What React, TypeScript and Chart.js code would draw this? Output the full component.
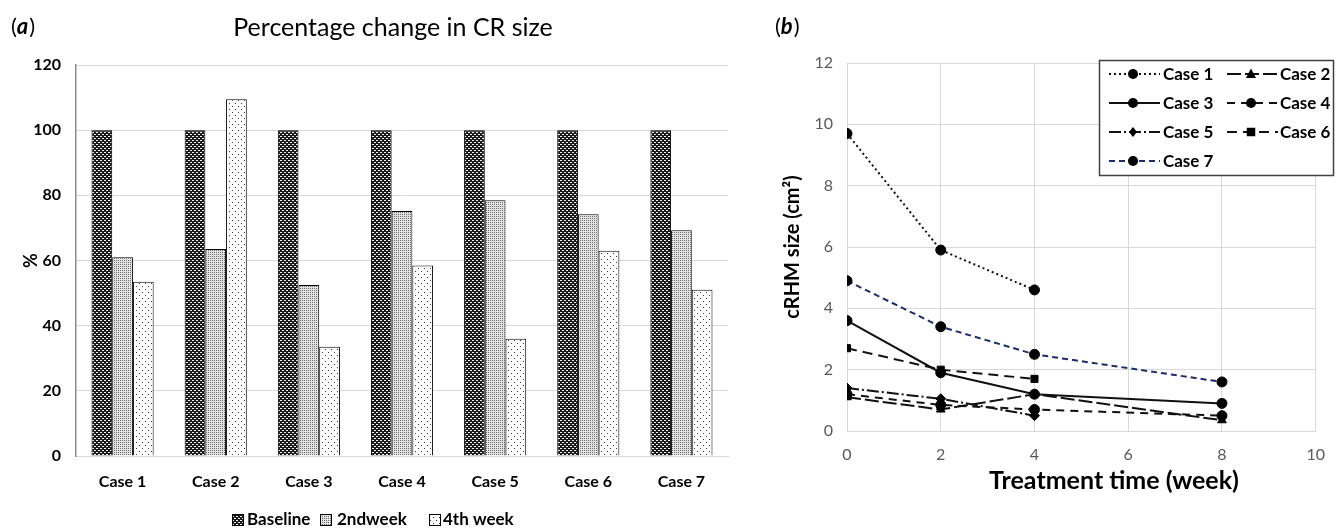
import React, { useEffect, useRef } from 'react';
import { Chart, registerables } from 'chart.js';

Chart.register(...registerables);

const FONT = 'Lato, "Open Sans", sans-serif';

// ---------- Panel (a) data ----------
const caseLabels = ['Case 1', 'Case 2', 'Case 3', 'Case 4', 'Case 5', 'Case 6', 'Case 7'];
const barSeriesNames = ['Baseline', '2ndweek', '4th week'];
const baselinePct = [100, 100, 100, 100, 100, 100, 100];
const week2Pct = [61, 63.5, 52.5, 75.2, 78.5, 74.2, 69.3];
const week4Pct = [53.5, 109.5, 33.5, 58.5, 36, 63, 51];
const barChartTitle = 'Percentage change in CR size';
const pctAxisTitle = '%';

// ---------- Panel (b) data ----------
const weeks = [0, 2, 4, 8];
const lineSeriesNames = ['Case 1', 'Case 2', 'Case 3', 'Case 4', 'Case 5', 'Case 6', 'Case 7'];
const case1Size = [9.7, 5.9, 4.6, null];
const case2Size = [1.1, 0.7, 1.2, 0.35];
const case3Size = [3.6, 1.9, 1.2, 0.9];
const case4Size = [1.2, 0.85, 0.7, 0.5];
const case5Size = [1.4, 1.05, 0.5, null];
const case6Size = [2.7, 2.0, 1.7, null];
const case7Size = [4.9, 3.4, 2.5, 1.6];
const sizeAxisTitle = 'cRHM size (cm²)';
const timeAxisTitle = 'Treatment time (week)';

const lineSeriesValues = [case1Size, case2Size, case3Size, case4Size, case5Size, case6Size, case7Size];

// styles (kept apart from data)
const lineColors = ['#111', '#111', '#111', '#111', '#111', '#111', '#1f2c6b'];
const lineDashes = [[2, 3], [14, 4], [], [8, 6], [12, 3, 2, 3], [10, 6], [6, 4]];
const lineMarkers = ['circle', 'triangle', 'circle', 'circle', 'rectRot', 'rect', 'circle'];
const lineMarkerSizes = [5, 5, 5, 5, 5, 5, 5];

function makePattern(kind: string): CanvasPattern | string {
  const c = document.createElement('canvas');
  const g = c.getContext('2d');
  if (!g) return '#888';
  if (kind === 'baseline') {
    c.width = 4; c.height = 4;
    g.fillStyle = '#1a1a1a'; g.fillRect(0, 0, 4, 4);
    g.fillStyle = '#f4f4f4';
    g.fillRect(0, 0, 2, 1);
    g.fillRect(2, 2, 2, 1);
  } else if (kind === 'week2') {
    c.width = 2; c.height = 2;
    g.fillStyle = '#e2e2e2'; g.fillRect(0, 0, 2, 2);
    g.fillStyle = '#707070'; g.fillRect(0, 0, 1, 1);
  } else {
    c.width = 6; c.height = 6;
    g.fillStyle = '#ffffff'; g.fillRect(0, 0, 6, 6);
    g.fillStyle = '#3a3a3a';
    g.fillRect(1, 1, 1, 1);
    g.fillRect(4, 4, 1, 1);
  }
  const p = g.createPattern(c, 'repeat');
  return p || '#888';
}

function drawPanelLabel(ctx: CanvasRenderingContext2D, letter: string, x: number, y: number) {
  ctx.textAlign = 'left';
  ctx.textBaseline = 'middle';
  ctx.fillStyle = '#000';
  ctx.font = `22px ${FONT}`;
  ctx.fillText('(', x, y);
  let cx = x + ctx.measureText('(').width;
  ctx.font = `italic bold 22px ${FONT}`;
  ctx.fillText(letter, cx, y);
  cx += ctx.measureText(letter).width + 1;
  ctx.font = `22px ${FONT}`;
  ctx.fillText(')', cx, y);
}

function drawMarker(ctx: CanvasRenderingContext2D, style: string, x: number, y: number, r: number) {
  ctx.beginPath();
  if (style === 'triangle') {
    ctx.moveTo(x, y - r * 1.1);
    ctx.lineTo(x + r, y + r * 0.8);
    ctx.lineTo(x - r, y + r * 0.8);
    ctx.closePath();
  } else if (style === 'rect') {
    ctx.rect(x - r * 0.85, y - r * 0.85, r * 1.7, r * 1.7);
  } else if (style === 'rectRot') {
    ctx.moveTo(x, y - r);
    ctx.lineTo(x + r * 0.8, y);
    ctx.lineTo(x, y + r);
    ctx.lineTo(x - r * 0.8, y);
    ctx.closePath();
  } else {
    ctx.arc(x, y, r, 0, Math.PI * 2);
  }
  ctx.fill();
}

const decorA = {
  id: 'decorA',
  afterDraw(chart: any) {
    const ctx: CanvasRenderingContext2D = chart.ctx;
    ctx.save();
    drawPanelLabel(ctx, 'a', 11, 27);
    ctx.font = `25px ${FONT}`;
    ctx.fillStyle = '#000';
    ctx.textAlign = 'center';
    ctx.textBaseline = 'middle';
    ctx.fillText(barChartTitle, 393, 28);
    const boxX = [232, 320, 429];
    const textX = [247, 337, 443];
    ctx.font = `bold 17px ${FONT}`;
    ctx.textAlign = 'left';
    chart.data.datasets.forEach((ds: any, i: number) => {
      ctx.fillStyle = ds.backgroundColor;
      ctx.fillRect(boxX[i], 514, 12, 12);
      ctx.strokeStyle = '#000';
      ctx.lineWidth = 1;
      ctx.strokeRect(boxX[i] + 0.5, 514.5, 11, 11);
      ctx.fillStyle = '#000';
      ctx.fillText(ds.label, textX[i], 520);
    });
    ctx.restore();
  },
};

const decorB = {
  id: 'decorB',
  afterDraw(chart: any) {
    const ctx: CanvasRenderingContext2D = chart.ctx;
    ctx.save();
    drawPanelLabel(ctx, 'b', 15, 27);
    ctx.font = `bold 25px ${FONT}`;
    ctx.fillStyle = '#000';
    ctx.textAlign = 'center';
    ctx.textBaseline = 'middle';
    ctx.fillText(timeAxisTitle, 354, 481);

    // legend box
    ctx.fillStyle = '#fff';
    ctx.fillRect(339, 60, 235, 116);
    ctx.strokeStyle = '#404040';
    ctx.lineWidth = 1.5;
    ctx.strokeRect(339.5, 60.5, 234, 115);
    const rows = [74, 103, 132, 161];
    const lineStart = [349, 467];
    const lineEnd = [400, 518];
    const markX = [373, 491];
    const textX = [403, 520];
    chart.data.datasets.forEach((ds: any, i: number) => {
      const col = i % 2;
      const y = rows[Math.floor(i / 2)];
      ctx.strokeStyle = ds.borderColor;
      ctx.lineWidth = ds.borderWidth;
      ctx.setLineDash(ds.borderDash || []);
      ctx.beginPath();
      ctx.moveTo(lineStart[col], y);
      ctx.lineTo(lineEnd[col], y);
      ctx.stroke();
      ctx.setLineDash([]);
      ctx.fillStyle = '#000';
      drawMarker(ctx, ds.pointStyle, markX[col], y, ds.pointRadius);
      ctx.font = `bold 17px ${FONT}`;
      ctx.textAlign = 'left';
      ctx.textBaseline = 'middle';
      ctx.fillText(ds.label, textX[col], y + 1);
    });
    ctx.restore();
  },
};

function BarPanel() {
  const ref = useRef<HTMLCanvasElement>(null);
  useEffect(() => {
    if (!ref.current) return;
    const fills = [makePattern('baseline'), makePattern('week2'), makePattern('week4')];
    const values = [baselinePct, week2Pct, week4Pct];
    const chart = new Chart(ref.current, {
      type: 'bar',
      data: {
        labels: caseLabels,
        datasets: barSeriesNames.map((name, i) => ({
          label: name,
          data: values[i],
          backgroundColor: fills[i] as any,
          borderColor: '#000',
          borderWidth: 1,
          categoryPercentage: 0.667,
          barPercentage: 1.0,
        })),
      },
      options: {
        responsive: false,
        animation: false,
        layout: { padding: { left: 0, right: 17, top: 65, bottom: 32 } },
        plugins: { legend: { display: false }, title: { display: false }, tooltip: { enabled: false } },
        scales: {
          x: {
            grid: { display: false },
            border: { display: true, color: '#d9d9d9' },
            ticks: { color: '#000', font: { family: FONT, size: 16, weight: 'bold' }, padding: 8 },
            afterFit: (s: any) => { s.height = 40; },
          },
          y: {
            min: 0,
            max: 120,
            ticks: { stepSize: 20, color: '#000', font: { family: FONT, size: 16, weight: 'bold' }, padding: 15 },
            grid: { color: '#d9d9d9', drawTicks: false },
            border: { display: true, color: '#8c8c8c', width: 1.5 },
            title: { display: true, text: pctAxisTitle, color: '#000', font: { family: FONT, size: 18, weight: 'bold' }, padding: { top: 20, bottom: 0 } },
            afterFit: (s: any) => { s.width = 76; },
          },
        },
      },
      plugins: [decorA],
    });
    return () => chart.destroy();
  }, []);
  return <canvas ref={ref} width={745} height={528} style={{ position: 'absolute', left: 0, top: 0 }} />;
}

function LinePanel() {
  const ref = useRef<HTMLCanvasElement>(null);
  useEffect(() => {
    if (!ref.current) return;
    const chart = new Chart(ref.current, {
      type: 'line',
      data: {
        datasets: lineSeriesNames.map((name, i) => ({
          label: name,
          data: weeks
            .map((w, j) => ({ x: w, y: lineSeriesValues[i][j] }))
            .filter((p) => p.y !== null) as any,
          borderColor: lineColors[i],
          borderWidth: 2,
          borderDash: lineDashes[i],
          pointStyle: lineMarkers[i] as any,
          pointRadius: lineMarkerSizes[i],
          pointBackgroundColor: '#000',
          pointBorderColor: '#000',
          pointBorderWidth: 1,
          fill: false,
          tension: 0,
        })),
      },
      options: {
        responsive: false,
        animation: false,
        layout: { padding: { left: 0, right: 9, top: 63, bottom: 57 } },
        plugins: { legend: { display: false }, title: { display: false }, tooltip: { enabled: false } },
        scales: {
          x: {
            type: 'linear',
            min: 0,
            max: 10,
            ticks: { stepSize: 2, color: '#595959', font: { family: FONT, size: 16 }, padding: 14 },
            grid: { color: '#d9d9d9', drawTicks: false },
            border: { display: true, color: '#d9d9d9' },
            afterFit: (s: any) => { s.height = 40; },
          },
          y: {
            min: 0,
            max: 12,
            ticks: { stepSize: 2, color: '#595959', font: { family: FONT, size: 16 }, padding: 14 },
            grid: { color: '#d9d9d9', drawTicks: false },
            border: { display: true, color: '#d9d9d9' },
            title: { display: true, text: sizeAxisTitle, color: '#000', font: { family: FONT, size: 20, weight: 'bold' }, padding: { top: 21, bottom: 0 } },
            afterFit: (s: any) => { s.width = 87; },
          },
        },
      },
      plugins: [decorB],
    });
    return () => chart.destroy();
  }, []);
  return <canvas ref={ref} width={579} height={528} style={{ position: 'absolute', left: 760, top: 0 }} />;
}

export default function App() {
  return (
    <div style={{ position: 'absolute', left: 0, top: 0, width: 1339, height: 528, background: '#fff', overflow: 'hidden' }}>
      <BarPanel />
      <LinePanel />
    </div>
  );
}
